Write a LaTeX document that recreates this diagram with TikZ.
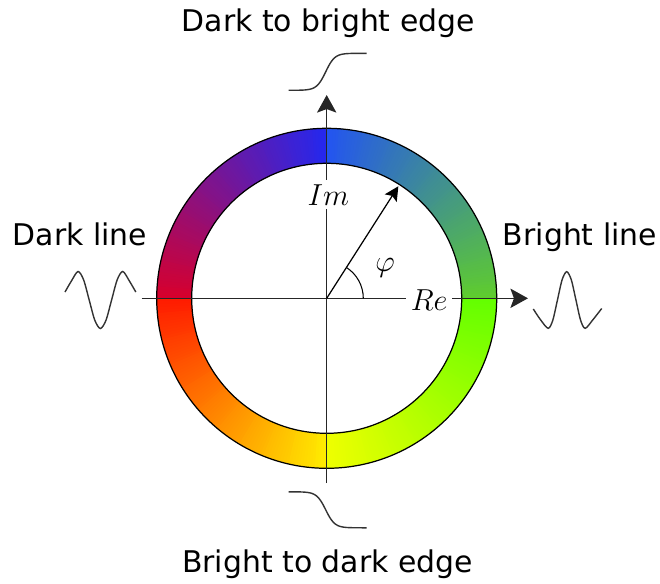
\documentclass[tikz,border=0pt]{standalone}
\usepackage{fontspec}
\usepackage{tikz}
\usetikzlibrary{arrows.meta}
\newfontfamily\labelfont{DejaVu Sans}
\definecolor{WheelGreenA}{RGB}{95,205,45}
\definecolor{WheelBlueA}{RGB}{35,85,240}
\definecolor{WheelBlueB}{RGB}{35,40,240}
\definecolor{WheelRedA}{RGB}{215,0,45}
\definecolor{WheelRedB}{RGB}{255,25,0}
\definecolor{WheelYellowA}{RGB}{255,235,0}
\definecolor{WheelYellowB}{RGB}{240,255,0}
\definecolor{WheelGreenB}{RGB}{100,255,0}

\begin{document}
\begin{tikzpicture}[x=0.02cm, y=0.02cm,
      lbl/.style={font=\labelfont\fontsize{17}{20}\selectfont,
                  inner sep=0pt, anchor=base},
      mathlbl/.style={font=\fontsize{18}{21}\selectfont, fill=white,
                      inner xsep=2.5pt, inner ysep=2.5pt, anchor=base},
      axis/.style={line width=0.9pt, black!85,
                   -{Stealth[length=10pt, width=11pt, inset=2pt]}},
      wave/.style={line width=0.8pt, black!80},
      rim/.style={line width=0.7pt, black}
    ]
    \useasboundingbox (-326.7,-284.7) rectangle (333.3,298.3);

    %--- colour ring, one quadrant at a time ---
    \foreach \q/\ca/\cb in {0/WheelGreenA/WheelBlueA, 90/WheelBlueB/WheelRedA,
                            180/WheelRedB/WheelYellowA, 270/WheelYellowB/WheelGreenB} {
      \foreach \i in {0,...,89} {
        \pgfmathsetmacro\s{\q+\i}
        \pgfmathsetmacro\e{min(\q+\i+1.6,\q+90)}
        \pgfmathtruncatemacro\p{100-(\i+0.5)*100/90}
        \fill[\ca!\p!\cb] (\s:135) arc[start angle=\s, end angle=\e, radius=135]
          -- (\e:170) arc[start angle=\e, end angle=\s, radius=170] -- cycle;
      }
    }
    \draw[rim] (0,0) circle[radius=135] (0,0) circle[radius=170];

    %--- axes and phasor ---
    \coordinate (xl) at (-185,0);
    \coordinate (xr) at (201.3,0);
    \coordinate (yb) at (0,-184.7);
    \coordinate (yt) at (0,203.3);
    \coordinate (o) at (0,0);
    \coordinate (tip) at (57.4:133);
    \draw[axis] (xl) -- (xr);
    \draw[axis] (yb) -- (yt);
    \draw[line width=0.7pt, -{Stealth[length=8pt, width=8pt, inset=1.5pt]}] (o) -- (tip);
    \draw[line width=0.6pt] (36.6,0) arc[start angle=0, end angle=57.4, radius=36.6];

    \node[mathlbl] (im) at (1.6,93.3) {$Im$};
    \node[mathlbl] (re) at (102.5,-12.4) {$Re$};
    \node[font=\fontsize{18}{21}\selectfont] (phi) at (58.3,30.3) {$\varphi$};

    %--- edge profiles ---
    \draw[wave] plot[domain=-38:40, samples=60] (\x, {226.5+18.5*tanh((\x+1)/9)});
    \draw[wave] plot[domain=-38:40, samples=60] (\x, {-211.5-18*tanh((\x+1)/9)});

    %--- line profiles ---
    \begin{scope}[shift={(-226.3,-1.7)}]
      \draw[wave] plot[smooth] coordinates {(-35.4,8) (-29,19) (-22.4,28.5)
        (-16.8,20.2) (-11.2,0) (-5.6,-20.2) (0,-28.5) (5.6,-20.2) (11.2,0)
        (16.8,20.2) (22.4,28.5) (29,19) (35.4,8)};
    \end{scope}
    \begin{scope}[shift={(240,-1.7)}]
      \draw[wave] plot[smooth] coordinates {(-33.4,-9) (-26,-20) (-18.5,-28.3)
        (-13.9,-20.2) (-9.25,0) (-4.6,20.2) (0,28.3) (4.6,20.2) (9.25,0)
        (13.9,-20.2) (18.5,-28.3) (26,-20) (35,-8.5)};
    \end{scope}

    %--- texts ---
    \node[lbl] (topedge) at (1.6,266.6) {Dark to bright edge};
    \node[lbl] (botedge) at (0.8,-274) {Bright to dark edge};
    \node[lbl] (darkline) at (-246.7,53.3) {Dark line};
    \node[lbl] (brightline) at (253.3,53.3) {Bright line};
  \end{tikzpicture}
\end{document}
